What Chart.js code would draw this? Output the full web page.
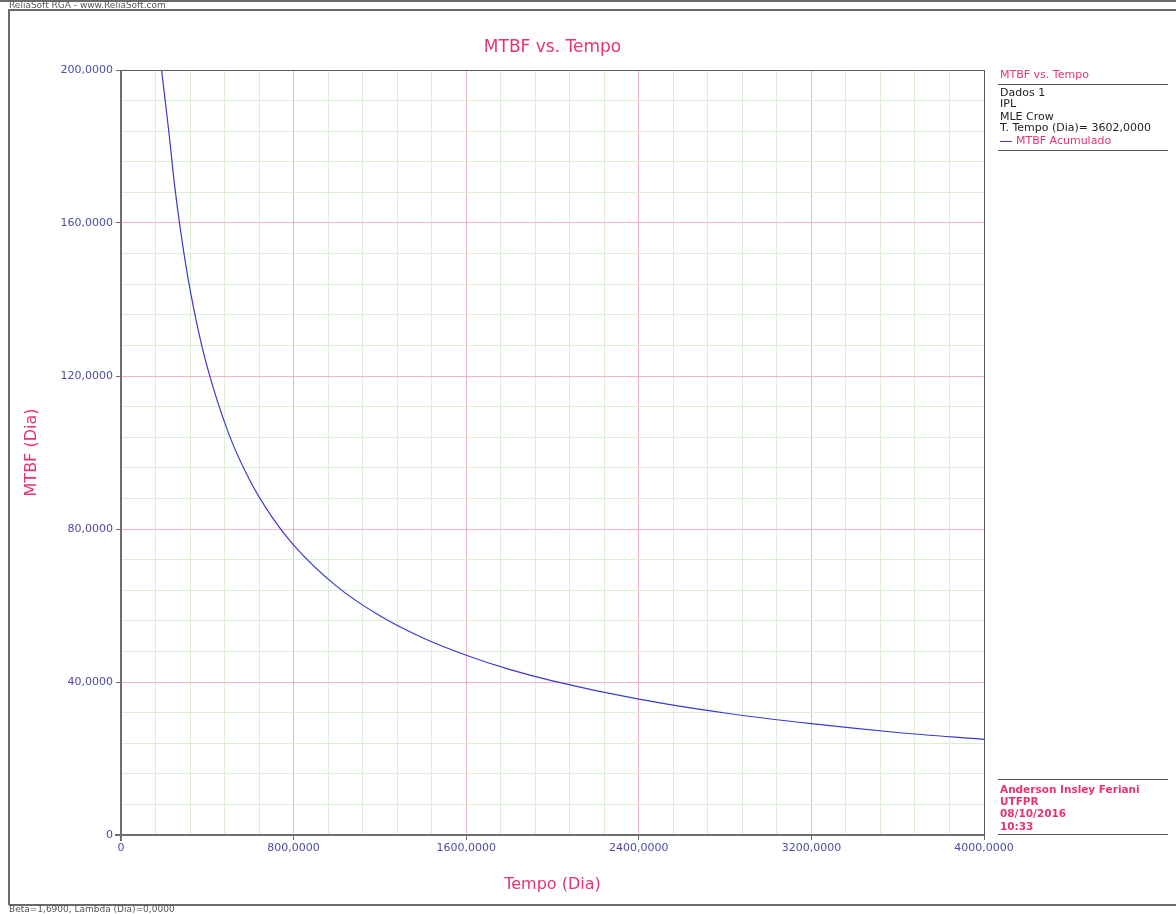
<!DOCTYPE html>
<html>
<head>
<meta charset="utf-8">
<script src="https://cdn.jsdelivr.net/npm/chart.js@4.4.0/dist/chart.umd.min.js"></script>
<style>
  html, body { margin: 0; padding: 0; background: #fff; overflow: hidden; }
  #wrap { position: relative; width: 1176px; height: 914px; }
</style>
</head>
<body>
<div id="wrap"><canvas id="rga" width="1176" height="914"></canvas></div>
<script>
// Tempo (Dia) and MTBF acumulado (Dia)
var tempo = [188, 220, 250, 300, 350, 400, 500, 600, 700, 800, 1000, 1200, 1400, 1600, 1800, 2000, 2400, 2800, 3200, 3600, 4000];
var mtbf = [200.0, 184.7, 169.1, 149.1, 134.1, 122.3, 104.8, 92.4, 83.1, 75.8, 65.0, 57.3, 51.5, 47.0, 43.3, 40.3, 35.5, 31.9, 29.1, 26.8, 25.0];

var xMax = 4000, xMajor = 800, xMinor = 160;
var yMax = 200, yMajor = 40, yMinor = 8;

var pink = '#e8336f';
var tickBlue = '#4b4ba6';
var font = "'DejaVu Sans', Verdana, sans-serif";

function fmt(v) {
    if (v === 0) return '0';
    return v.toFixed(4).replace('.', ',');
}
function isMajor(v, step) {
    return Math.abs(v / step - Math.round(v / step)) < 1e-6;
}

// frame, header, legend box and signature
var decor = {
    id: 'decor',
    beforeDraw: function(chart) {
        var c = chart.ctx;
        c.save();
        c.fillStyle = '#fff';
        c.fillRect(0, 0, chart.width, chart.height);
        c.restore();
    },
    afterDraw: function(chart) {
        var c = chart.ctx, a = chart.chartArea;
        c.save();
        // outer frame
        c.strokeStyle = '#6a6a6a';
        c.lineWidth = 2;
        c.beginPath();
        c.moveTo(0, 1); c.lineTo(1176, 1);
        c.moveTo(8, 10); c.lineTo(1176, 10);
        c.moveTo(9, 10); c.lineTo(9, 905);
        c.moveTo(9, 905); c.lineTo(1176, 905);
        c.stroke();
        c.fillStyle = '#555';
        c.font = '9px ' + font;
        c.textBaseline = 'middle';
        c.fillText('ReliaSoft RGA - www.ReliaSoft.com', 9, 5.5);
        c.fillText('Beta=1,6900, Lambda (Dia)=0,0000', 9, 910);

        // plot border
        c.strokeStyle = '#5a5a5a';
        c.lineWidth = 1;
        c.strokeRect(a.left + 0.5, a.top + 0.5, a.right - a.left, a.bottom - a.top);
        c.lineWidth = 2;
        c.strokeStyle = '#6e6e6e';
        c.beginPath();
        c.moveTo(a.left, a.top); c.lineTo(a.left, a.bottom + 6);
        c.moveTo(a.left - 6, a.bottom); c.lineTo(a.right, a.bottom);
        c.stroke();

        // title
        c.fillStyle = pink;
        c.font = '17px ' + font;
        c.textAlign = 'center';
        c.fillText('MTBF vs. Tempo', (a.left + a.right) / 2, 48);

        // legend block
        c.textAlign = 'left';
        c.font = '11px ' + font;
        c.fillStyle = pink;
        c.fillText('MTBF vs. Tempo', 1000, 75);
        c.fillStyle = '#222';
        c.fillText('Dados 1', 1000, 93);
        c.fillText('IPL', 1000, 104);
        c.fillText('MLE Crow', 1000, 117);
        c.fillText('T. Tempo (Dia)= 3602,0000', 1000, 128);
        c.fillStyle = pink;
        c.fillText('MTBF Acumulado', 1016, 141);
        c.strokeStyle = '#3a3ad0';
        c.lineWidth = 1;
        c.beginPath(); c.moveTo(1000, 141.5); c.lineTo(1012, 141.5); c.stroke();
        c.strokeStyle = '#555';
        c.beginPath();
        c.moveTo(998, 84.5); c.lineTo(1168, 84.5);
        c.moveTo(998, 150.5); c.lineTo(1168, 150.5);
        c.moveTo(998, 779.5); c.lineTo(1168, 779.5);
        c.moveTo(998, 834.5); c.lineTo(1168, 834.5);
        c.stroke();

        // signature
        c.fillStyle = pink;
        c.font = 'bold 10.5px ' + font;
        c.fillText('Anderson Insley Feriani', 1000, 790);
        c.fillText('UTFPR', 1000, 802);
        c.fillText('08/10/2016', 1000, 814);
        c.fillText('10:33', 1000, 827);
        c.restore();
    }
};

var ctx = document.getElementById('rga').getContext('2d');
var chart = new Chart(ctx, {
    type: 'line',
    data: {
        datasets: [{
            label: 'MTBF Acumulado',
            data: tempo.map(function(t, i) { return { x: t, y: mtbf[i] }; }),
            borderColor: '#3a3ad0',
            borderWidth: 1.2,
            pointRadius: 0,
            fill: false,
            cubicInterpolationMode: 'monotone'
        }]
    },
    options: {
        responsive: false,
        animation: false,
        devicePixelRatio: 1,
        layout: { padding: { left: 0, top: 70, right: 192, bottom: 0 } },
        plugins: {
            legend: { display: false },
            tooltip: { enabled: false }
        },
        scales: {
            x: {
                type: 'linear',
                min: 0,
                max: xMax,
                afterFit: function(s) { s.height = 79; },
                afterBuildTicks: function(s) {
                    var t = [];
                    for (var v = 0; v <= xMax + 1e-6; v += xMinor) t.push({ value: v });
                    s.ticks = t;
                },
                border: { display: false },
                grid: {
                    color: function(c) {
                        var v = c.tick ? c.tick.value : 0;
                        return isMajor(v, xMajor) ? '#f3b3c6' : '#dcefd4';
                    },
                    tickColor: function(c) {
                        var v = c.tick ? c.tick.value : 0;
                        return isMajor(v, xMajor) ? '#6e6e6e' : 'rgba(0,0,0,0)';
                    },
                    tickLength: 5,
                    lineWidth: 1
                },
                ticks: {
                    autoSkip: false,
                    maxRotation: 0,
                    color: tickBlue,
                    font: { family: font, size: 11 },
                    padding: 2,
                    callback: function(v) { return isMajor(v, xMajor) ? fmt(v) : ''; }
                },
                title: {
                    display: true,
                    text: 'Tempo (Dia)',
                    color: pink,
                    font: { family: font, size: 16 },
                    padding: { top: 0, bottom: 20 }
                }
            },
            y: {
                type: 'linear',
                min: 0,
                max: yMax,
                afterFit: function(s) { s.width = 121; },
                afterBuildTicks: function(s) {
                    var t = [];
                    for (var v = 0; v <= yMax + 1e-6; v += yMinor) t.push({ value: v });
                    s.ticks = t;
                },
                border: { display: false },
                grid: {
                    color: function(c) {
                        var v = c.tick ? c.tick.value : 0;
                        return isMajor(v, yMajor) ? '#f3b3c6' : '#dcefd4';
                    },
                    tickColor: function(c) {
                        var v = c.tick ? c.tick.value : 0;
                        return isMajor(v, yMajor) ? '#6e6e6e' : 'rgba(0,0,0,0)';
                    },
                    tickLength: 5,
                    lineWidth: 1
                },
                ticks: {
                    autoSkip: false,
                    color: tickBlue,
                    font: { family: font, size: 11 },
                    padding: 3,
                    callback: function(v) { return isMajor(v, yMajor) ? fmt(v) : ''; }
                },
                title: {
                    display: true,
                    text: 'MTBF (Dia)',
                    color: pink,
                    font: { family: font, size: 16 },
                    padding: { top: 22, bottom: 0 }
                }
            }
        }
    },
    plugins: [decor]
});
</script>
</body>
</html>
